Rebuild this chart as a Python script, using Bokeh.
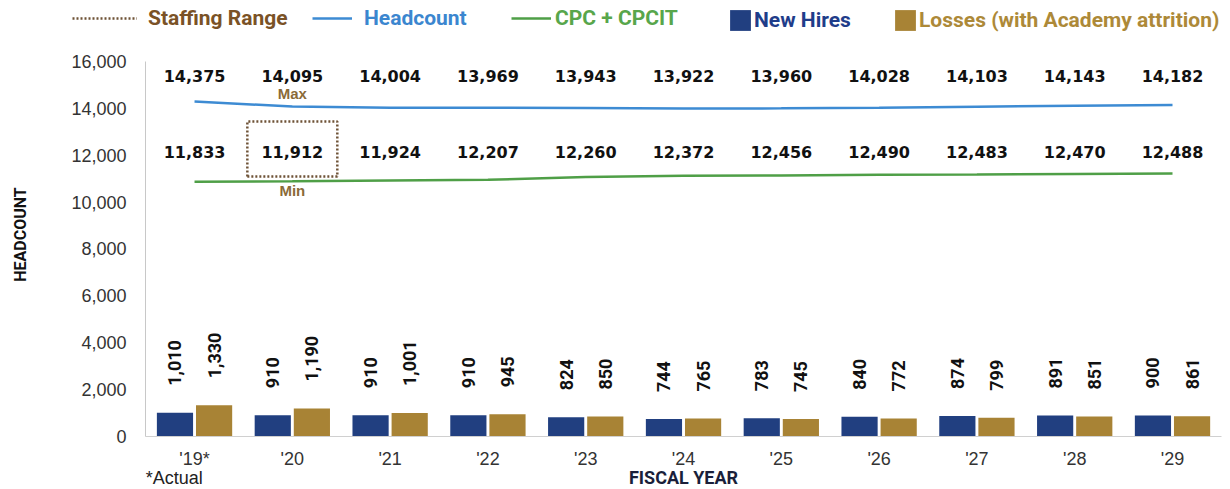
import math
from bokeh.plotting import figure
from bokeh.models import (Range1d, FixedTicker, NumeralTickFormatter, Legend,
                          LegendItem)
from bokeh.core.properties import value
from bokeh.embed import file_html
from bokeh.resources import INLINE

# ---------------- data ----------------
years = ["'19*", "'20", "'21", "'22", "'23", "'24", "'25", "'26", "'27", "'28", "'29"]
range_max = [14375, 14095, 14004, 13969, 13943, 13922, 13960, 14028, 14103, 14143, 14182]
range_min = [11833, 11912, 11924, 12207, 12260, 12372, 12456, 12490, 12483, 12470, 12488]
headcount = [14290, 14080, 14030, 14025, 14010, 13990, 14000, 14030, 14070, 14110, 14140]
cpc_cpcit = [10870, 10890, 10920, 10950, 11070, 11120, 11140, 11170, 11180, 11200, 11220]
new_hires = [1010, 910, 910, 910, 824, 744, 783, 840, 874, 891, 900]
losses = [1330, 1190, 1001, 945, 850, 765, 745, 772, 799, 851, 861]
staffing_box_year = 1            # '20
staffing_box = [11090, 13440]    # low, high of the dotted staffing-range box

# ---------------- style ----------------
BLUE = "#3d8bd3"
GREEN = "#4f9f47"
NAVY = "#213f80"
GOLD = "#a88335"
BROWN = "#6e5236"
BROWN_TXT = "#7a5226"
TAG_TXT = "#8a6a38"
COND = "Roboto"
BOLD_NUM = "DejaVu Sans"

n = len(years)
idx = list(range(n))

# frame covers the whole canvas; axes are pinned to x=-0.5 and y=0
p = figure(width=1230, height=489, output_backend="svg", toolbar_location=None,
           x_range=Range1d(-1.984, 10.593), y_range=Range1d(-2261, 18601),
           min_border=0)
p.outline_line_color = None
p.xgrid.grid_line_color = None
p.ygrid.grid_line_color = None
p.background_fill_color = "white"
p.border_fill_color = "white"

# y axis
p.yaxis.fixed_location = -0.5
p.yaxis.bounds = (0, 16000)
p.yaxis.ticker = FixedTicker(ticks=list(range(0, 16001, 2000)))
p.yaxis.formatter = NumeralTickFormatter(format="0,0")
p.yaxis.major_tick_line_color = None
p.yaxis.minor_tick_line_color = None
p.yaxis.axis_line_color = "#c8c8c8"
p.yaxis.major_label_standoff = 13
p.yaxis.major_label_text_font = "Liberation Sans"
p.yaxis.major_label_text_font_size = "18px"
p.yaxis.major_label_text_color = "#333333"

# x axis
p.xaxis.fixed_location = 0
p.xaxis.bounds = (-0.5, n - 0.5)
p.xaxis.ticker = FixedTicker(ticks=idx)
p.xaxis.major_label_overrides = {i: years[i] for i in idx}
p.xaxis.major_tick_line_color = None
p.xaxis.minor_tick_line_color = None
p.xaxis.axis_line_color = "#d0d0d0"
p.xaxis.major_label_standoff = 6
p.xaxis.major_label_text_font = "Liberation Sans"
p.xaxis.major_label_text_font_size = "18px"
p.xaxis.major_label_text_color = "#333333"

# lines
hc = p.line(idx, headcount, line_color=BLUE, line_width=2.5)
cp = p.line(idx, cpc_cpcit, line_color=GREEN, line_width=2.5)

# bars
nh = p.vbar(x=[i - 0.2 for i in idx], top=new_hires, width=0.37,
            fill_color=NAVY, line_color=None)
ls = p.vbar(x=[i + 0.2 for i in idx], top=losses, width=0.37,
            fill_color=GOLD, line_color=None)

# bar value labels (rotated)
for xs, vals in (([i - 0.2 for i in idx], new_hires), ([i + 0.2 for i in idx], losses)):
    p.text(x=xs, y=vals, text=[f"{v:,}" for v in vals], angle=math.pi / 2,
           text_align="left", text_baseline="middle", y_offset=-27,
           text_font=value(COND), text_font_style="bold",
           text_font_size="18px", text_color="#111111")

# staffing range labels
MAX_ROW = 15360
MIN_ROW = 12120
p.text(x=idx, y=[MAX_ROW] * n, text=[f"{v:,}" for v in range_max],
       text_align="center", text_baseline="middle",
       text_font=value(BOLD_NUM), text_font_style="bold",
       text_font_size="16px", text_color="#111111")
p.text(x=idx, y=[MIN_ROW] * n, text=[f"{v:,}" for v in range_min],
       text_align="center", text_baseline="middle",
       text_font=value(BOLD_NUM), text_font_style="bold",
       text_font_size="16px", text_color="#111111")
p.text(x=[staffing_box_year], y=[14630], text=["Max"], text_align="center",
       text_baseline="middle", text_font=value("Liberation Sans"),
       text_font_style="bold", text_font_size="15px", text_color=TAG_TXT)
p.text(x=[staffing_box_year], y=[10500], text=["Min"], text_align="center",
       text_baseline="middle", text_font=value("Liberation Sans"),
       text_font_style="bold", text_font_size="15px", text_color=TAG_TXT)

# dotted staffing range box
bx0, bx1 = staffing_box_year - 0.46, staffing_box_year + 0.46
lo, hi = staffing_box
sr = p.line(x=[bx0, bx1, bx1, bx0, bx0], y=[lo, lo, hi, hi, lo],
            line_color=BROWN, line_width=2.5, line_dash="2 2")

# axis titles / notes
NOTE_Y = -1760
p.text(x=[-0.5], y=[NOTE_Y], text=["*Actual"], text_align="left",
       text_baseline="middle", text_font=value("Liberation Sans"),
       text_font_size="18px", text_color="#222222")
p.text(x=[(n - 1) / 2], y=[NOTE_Y], text=["FISCAL YEAR"], text_align="center",
       text_baseline="middle", text_font=value(COND), text_font_style="bold",
       text_font_size="18px", text_color="#1a1f3a")
p.text(x=[-1.78], y=[8620], text=["HEADCOUNT"], angle=math.pi / 2,
       text_align="center", text_baseline="middle", text_font=value(COND),
       text_font_style="bold", text_font_size="16px", text_color="#111111")

# legends (one per entry, so each text can carry its series colour)
def add_legend(label, rend, color, x, y, gw, gh, standoff):
    lg = Legend(items=[LegendItem(label=label, renderers=[rend])],
                location=(x, y), orientation="horizontal",
                glyph_width=gw, glyph_height=gh, label_standoff=standoff,
                padding=0, margin=0, spacing=0, border_line_color=None,
                background_fill_alpha=0, label_text_color=color,
                label_text_font=COND, label_text_font_style="bold",
                label_text_font_size="21px", label_height=20)
    p.add_layout(lg)

add_legend("Staffing Range", sr, BROWN_TXT, 72, 459, 65, 20, 11)
add_legend("Headcount", hc, "#3b86cf", 312, 459, 40, 20, 12)
add_legend("CPC + CPCIT", cp, "#58a64b", 511, 459, 40, 20, 4)
add_legend("New Hires", nh, "#1f3d8a", 727, 456, 26, 26, 1)
add_legend("Losses (with Academy attrition)", ls, "#ad8938", 892, 456, 26, 26, 1)

open("out.html", "w").write(file_html(p, INLINE))
